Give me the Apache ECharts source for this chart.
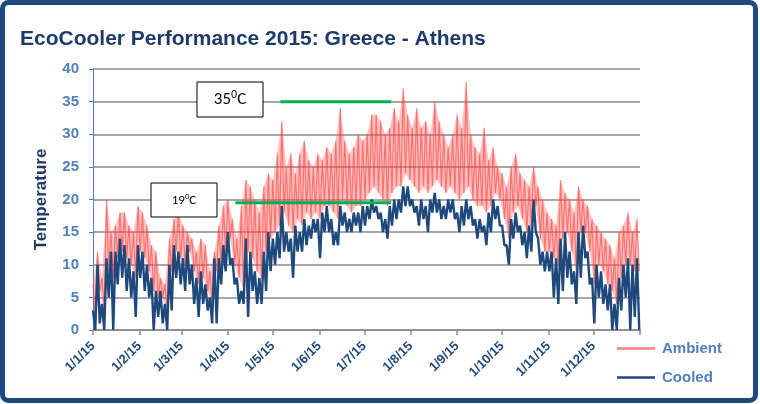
<!DOCTYPE html>
<html>
<head>
<meta charset="utf-8">
<script src="https://cdn.jsdelivr.net/npm/echarts@6/dist/echarts.min.js"></script>
<style>
  html, body { margin: 0; padding: 0; background: #fff; }
  #chart { width: 760px; height: 404px; }
</style>
</head>
<body>
<div id="chart"></div>
<script>
// day-of-year where each month starts, and the label shown there
const monthDays = [0, 31, 59, 90, 120, 151, 181, 212, 243, 273, 304, 334];
const tickLabels = ['1/1/15', '1/2/15', '1/3/15', '1/4/15', '1/5/15', '1/6/15',
  '1/7/15', '1/8/15', '1/9/15', '1/10/15', '1/11/15', '1/12/15'];

// values read every 3 days: daily high / low envelope
const ambientHigh = [7, 12, 8, 20, 15, 16, 18, 18, 16, 15, 19, 18, 16, 13, 12, 8, 7, 14, 17, 18,
  16, 15, 14, 12, 14, 13, 9, 12, 16, 19, 20, 17, 14, 19, 23, 22, 20, 18, 22, 24,
  23, 27, 32, 25, 27, 24, 27, 29, 26, 25, 27, 26, 28, 27, 29, 34, 29, 27, 28, 30,
  29, 30, 33, 33, 32, 30, 31, 34, 32, 37, 33, 31, 34, 31, 32, 30, 35, 32, 30, 28,
  30, 33, 31, 38, 30, 28, 27, 31, 26, 28, 25, 24, 22, 25, 27, 24, 23, 22, 25, 22,
  20, 18, 17, 16, 23, 21, 20, 18, 22, 20, 19, 17, 16, 15, 14, 13, 11, 15, 16, 18,
  15, 17];
const ambientLow = [2, 6, 3, 9, 8, 11, 12, 11, 10, 8, 12, 11, 9, 6, 5, 5, 3, 9, 12, 11,
  10, 12, 9, 7, 8, 6, 4, 9, 10, 12, 14, 10, 8, 6, 12, 11, 9, 8, 12, 14,
  15, 16, 18, 16, 15, 17, 16, 18, 17, 18, 17, 19, 19, 18, 17, 20, 19, 18, 19, 19,
  20, 21, 22, 21, 20, 19, 21, 22, 22, 24, 23, 22, 21, 22, 21, 22, 23, 22, 21, 22,
  21, 20, 21, 22, 20, 19, 19, 18, 19, 21, 20, 17, 14, 18, 19, 17, 15, 16, 19, 14,
  12, 12, 11, 10, 14, 15, 12, 9, 15, 15, 12, 7, 10, 9, 7, 6, 4, 8, 10, 10,
  9, 9];
const cooledHigh = [3, 10, 4, 11, 12, 12, 14, 13, 11, 9, 13, 12, 10, 8, 6, 6, 4, 10, 13, 12,
  11, 13, 10, 8, 9, 7, 5, 11, 11, 13, 15, 11, 8, 6, 14, 12, 9, 8, 12, 15,
  14, 15, 19, 15, 14, 16, 15, 17, 16, 17, 17, 18, 19, 17, 15, 19, 18, 17, 18, 18,
  19, 19, 20, 19, 18, 17, 19, 20, 20, 22, 22, 20, 19, 20, 19, 20, 21, 20, 19, 20,
  20, 18, 19, 20, 19, 17, 17, 16, 18, 20, 19, 16, 13, 17, 18, 16, 15, 16, 20, 14,
  12, 12, 12, 11, 14, 15, 12, 9, 15, 16, 12, 8, 10, 9, 7, 7, 4, 8, 10, 11,
  10, 11];
const cooledLow = [0, 1, 0, 5, 0, 7, 8, 6, 5, 2, 8, 6, 5, 0, 2, 1, 0, 3, 8, 7,
  6, 7, 4, 2, 4, 3, 1, 1, 7, 9, 10, 7, 4, 4, 2, 6, 4, 4, 6, 9,
  10, 11, 12, 12, 8, 12, 12, 13, 14, 15, 11, 15, 15, 13, 13, 16, 15, 15, 16, 15,
  16, 17, 18, 17, 15, 14, 16, 17, 18, 19, 19, 18, 16, 17, 15, 18, 18, 17, 17, 18,
  17, 15, 16, 17, 16, 14, 15, 13, 15, 17, 16, 13, 10, 14, 15, 13, 11, 12, 15, 10,
  9, 9, 5, 4, 6, 8, 7, 4, 8, 11, 7, 1, 5, 4, 3, 0, 0, 3, 5, 0,
  2, 0];

// the two 35 / 19 °C reference lines
const line35 = [[125, 35], [199, 35]];
const line19 = [[95, 19.5], [199, 19.5]];

// zig-zag: high at the start of each 3-day step, low half way through
function build(hi, lo) {
  const out = [];
  hi.forEach((h, i) => {
    out.push([i * 3, h]);
    out.push([i * 3 + 1.5, lo[i]]);
  });
  return out;
}

const navy = '#1F3864';
const blue = '#4F81BD';

// light fill between the ambient low and high envelope
function renderBand(params, api) {
  const i = params.dataIndex;
  if (i >= ambientHigh.length - 1) return;
  const pts = [
    api.coord([i * 3, ambientHigh[i]]),
    api.coord([(i + 1) * 3, ambientHigh[i + 1]]),
    api.coord([(i + 1) * 3 + 1.5, ambientLow[i + 1]]),
    api.coord([i * 3 + 1.5, ambientLow[i]])
  ];
  return {
    type: 'polygon',
    shape: { points: pts },
    style: { fill: 'rgba(255, 90, 90, 0.38)', stroke: 'none' }
  };
}

function degLabel(x, y, n, size) {
  return {
    type: 'text', z: 101, x: x, y: y,
    style: {
      text: '{n|' + n + '}{s|0}{n|C}',
      align: 'center',
      verticalAlign: 'middle',
      rich: {
        n: { fontSize: size, fontFamily: 'Carlito, Liberation Sans, sans-serif', fill: '#000', lineHeight: size + 4 },
        s: { fontSize: Math.round(size * 0.62), fontFamily: 'Liberation Sans, sans-serif', fill: '#000', verticalAlign: 'top', lineHeight: Math.round(size * 0.8) }
      }
    }
  };
}

const option = {
  animation: false,
  title: {
    text: 'EcoCooler Performance 2015: Greece - Athens',
    left: 15,
    top: 24,
    textStyle: { fontSize: 21, fontWeight: 'bold', color: '#1C3A6B', fontFamily: 'Liberation Sans' }
  },
  grid: { left: 93, right: 120, top: 69, bottom: 74, containLabel: false },
  legend: {
    orient: 'vertical',
    left: 612,
    top: 336,
    itemWidth: 38,
    itemHeight: 2.5,
    itemGap: 14,
    icon: 'rect',
    data: ['Ambient', 'Cooled'],
    textStyle: { fontSize: 15, color: blue, fontFamily: 'Liberation Sans', fontWeight: 'bold', padding: [0, 0, 0, 2] }
  },
  xAxis: {
    type: 'value',
    min: 0,
    max: 365,
    splitLine: { show: false },
    axisLine: { lineStyle: { color: '#8a8a8a', width: 1.5 } },
    axisTick: { customValues: monthDays.concat([365]), length: 5, lineStyle: { color: '#8a8a8a', width: 1.5 } },
    axisLabel: {
      customValues: monthDays,
      rotate: 45,
      margin: 14,
      fontSize: 13,
      fontWeight: 'bold',
      color: '#1F497D',
      fontFamily: 'Liberation Sans',
      formatter: (v) => tickLabels[monthDays.indexOf(v)]
    }
  },
  yAxis: {
    type: 'value',
    min: 0,
    max: 40,
    interval: 5,
    name: 'Temperature',
    nameLocation: 'middle',
    nameGap: 43,
    nameTextStyle: { fontSize: 17, fontWeight: 'bold', color: navy, fontFamily: 'Liberation Sans' },
    axisLine: { show: true, lineStyle: { color: blue, width: 1 } },
    axisTick: { show: true, length: 4, lineStyle: { color: blue } },
    axisLabel: { fontSize: 15, fontWeight: 'bold', color: blue, margin: 14, fontFamily: 'Liberation Sans' },
    splitLine: { lineStyle: { color: '#8a8a8a', width: 1.5 } }
  },
  series: [
    {
      type: 'custom',
      silent: true,
      renderItem: renderBand,
      data: ambientHigh.map((h, i) => [i * 3, ambientLow[i], h]),
      encode: { x: 0, y: [1, 2] },
      z: 1
    },
    {
      name: 'Ambient',
      type: 'line',
      showSymbol: false,
      symbol: 'none',
      data: build(ambientHigh, ambientLow),
      lineStyle: { color: 'rgba(255, 60, 60, 0.6)', width: 1.2 },
      itemStyle: { color: '#FF7C7C' }
    },
    {
      name: 'Cooled',
      type: 'line',
      showSymbol: false,
      symbol: 'none',
      data: build(cooledHigh, cooledLow),
      lineStyle: { color: '#1F497D', width: 2.4 },
      itemStyle: { color: '#1F497D' }
    },
    {
      type: 'line', silent: true, symbol: 'none', data: line35,
      lineStyle: { color: '#00B050', width: 3 }, z: 5
    },
    {
      type: 'line', silent: true, symbol: 'none', data: line19,
      lineStyle: { color: '#00B050', width: 3 }, z: 5
    }
  ],
  graphic: [
    {
      type: 'rect', z: 100,
      shape: { x: 2.5, y: 2.5, width: 753, height: 398, r: 6 },
      style: { fill: 'none', stroke: '#1F497D', lineWidth: 5 }
    },
    {
      type: 'rect', z: 100,
      shape: { x: 197, y: 82, width: 66, height: 35 },
      style: { fill: '#fff', stroke: '#000', lineWidth: 1 }
    },
    degLabel(230, 100, '35', 17),
    {
      type: 'rect', z: 100,
      shape: { x: 151, y: 183, width: 66, height: 34 },
      style: { fill: '#fff', stroke: '#000', lineWidth: 1 }
    },
    degLabel(184, 201, '19', 13)
  ]
};

const myChart = echarts.init(document.getElementById('chart'));
myChart.setOption(option);
</script>
</body>
</html>
